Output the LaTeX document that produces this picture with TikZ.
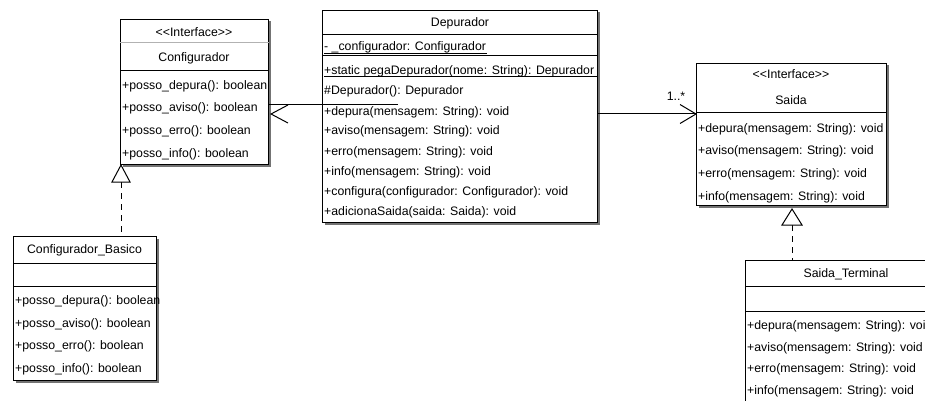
\documentclass[tikz,border=0pt]{standalone}
\usepackage{fontspec}
\setmainfont{Liberation Sans}
\usetikzlibrary{shadows}
\begin{document}
\begin{tikzpicture}[x=1pt,y=-1pt,
  font=\fontsize{12.3}{14}\selectfont,
  umlbox/.style={draw, line width=1pt, fill=white, inner sep=0pt, anchor=north west,
    drop shadow={shadow xshift=2pt, shadow yshift=-2pt, fill=black!55, opacity=1}},
  member/.style={anchor=west, inner sep=0pt, text height=8pt, text depth=0pt},
  title/.style={anchor=center, inner sep=0pt, text height=8pt, text depth=0pt},
  sep/.style={line width=1pt},
  realize/.style={line width=1pt, dash pattern=on 6pt off 5pt},
  hollow/.style={line width=1pt, fill=white},
  assoc/.style={line width=1pt}]
\useasboundingbox (0,0) rectangle (925,401);
\clip (0,0) rectangle (925,401);

% ---------- class boxes ----------
\node[umlbox, minimum width=148pt, minimum height=145pt] (cfg) at (120,19) {};
\node[umlbox, minimum width=275pt, minimum height=212pt] (dep) at (322,10) {};
\node[umlbox, minimum width=190pt, minimum height=142pt] (saida) at (696,63) {};
\node[umlbox, minimum width=143pt, minimum height=144pt] (basico) at (13,236) {};
\node[umlbox, minimum width=202pt, minimum height=170pt] (term) at (745,260) {};

% ---------- Configurador ----------
\draw[sep, black!30] (cfg.west |- 0,43) -- (cfg.east |- 0,43);
\draw[sep] (cfg.west |- 0,71) -- (cfg.east |- 0,71);
\node[title] (cfg-st) at (194,33) {<{}<Interface>{}>};
\node[title] (cfg-nm) at (194,58) {Configurador};
\node[member] (cfg-m1) at (122,86) {+posso\_depura(): boolean};
\node[member] (cfg-m2) at (122,108) {+posso\_aviso(): boolean};
\node[member] (cfg-m3) at (122,130) {+posso\_erro(): boolean};
\node[member] (cfg-m4) at (122,153) {+posso\_info(): boolean};

% ---------- Depurador ----------
\draw[sep] (dep.west |- 0,35) -- (dep.east |- 0,35);
\draw[sep] (dep.west |- 0,55.5) -- (dep.east |- 0,55.5);
\node[title] (dep-nm) at (460,23) {Depurador};
\node[member] (dep-a1) at (324,47) {- \_configurador: Configurador};
\draw[line width=0.8pt] (dep-a1.south west) ++(0,2.5) -- ++(163,0);
\node[member] (dep-m1) at (324,71) {+static pegaDepurador(nome: String): Depurador};
\draw[line width=0.8pt] (324,76) -- (dep.east |- 0,76);
\node[member] (dep-m2) at (324,91) {\#Depurador(): Depurador};
\node[member] (dep-m3) at (324,111) {+depura(mensagem: String): void};
\node[member] (dep-m4) at (324,131) {+aviso(mensagem: String): void};
\node[member] (dep-m5) at (324,151) {+erro(mensagem: String): void};
\node[member] (dep-m6) at (324,171) {+info(mensagem: String): void};
\node[member] (dep-m7) at (324,191) {+configura(configurador: Configurador): void};
\node[member] (dep-m8) at (324,211) {+adicionaSaida(saida: Saida): void};

% ---------- Saida ----------
\draw[sep] (saida.west |- 0,113) -- (saida.east |- 0,113);
\node[title] (saida-st) at (791,75) {<{}<Interface>{}>};
\node[title] (saida-nm) at (791,101) {Saida};
\node[member] (saida-m1) at (698,128) {+depura(mensagem: String): void};
\node[member] (saida-m2) at (698,150) {+aviso(mensagem: String): void};
\node[member] (saida-m3) at (698,173) {+erro(mensagem: String): void};
\node[member] (saida-m4) at (698,196) {+info(mensagem: String): void};

% ---------- Configurador_Basico ----------
\draw[sep] (basico.west |- 0,263) -- (basico.east |- 0,263);
\draw[sep] (basico.west |- 0,286) -- (basico.east |- 0,286);
\node[title] (basico-nm) at (84.5,249) {Configurador\_Basico};
\node[member] (basico-m1) at (15,300) {+posso\_depura(): boolean};
\node[member] (basico-m2) at (15,323) {+posso\_aviso(): boolean};
\node[member] (basico-m3) at (15,345) {+posso\_erro(): boolean};
\node[member] (basico-m4) at (15,368) {+posso\_info(): boolean};

% ---------- Saida_Terminal ----------
\draw[sep] (term.west |- 0,286) -- (term.east |- 0,286);
\draw[sep] (term.west |- 0,311) -- (term.east |- 0,311);
\node[title] (term-nm) at (846,273) {Saida\_Terminal};
\node[member] (term-m1) at (747,325) {+depura(mensagem: String): void};
\node[member] (term-m2) at (747,347) {+aviso(mensagem: String): void};
\node[member] (term-m3) at (747,368) {+erro(mensagem: String): void};
\node[member] (term-m4) at (747,390) {+info(mensagem: String): void};

% ---------- Depurador uses Configurador ----------
\coordinate (cfgref) at (398,105);
\coordinate (cfgtip) at ([xshift=2pt]cfg.east |- 0,114);
\draw[assoc] (cfgref) -- (cfg.east |- cfgref);
\draw[assoc] ([shift={(17,-9)}]cfgtip) -- (cfgtip) -- ([shift={(17,9)}]cfgtip);

% ---------- Depurador to Saida, 1..* ----------
\coordinate (saidatip) at (saida.west |- 0,114);
\draw[assoc] (dep.east |- saidatip) -- (saidatip);
\draw[assoc] ([shift={(-16,-9.5)}]saidatip) -- (saidatip) -- ([shift={(-16,9.5)}]saidatip);
\node[title] (mult) at (676,97) {1..*};

% ---------- realizations ----------
\coordinate (cfgreal) at (121,165);
\coordinate (cfgbase) at (121,182);
\draw[realize] (cfgbase) -- (basico.north -| cfgbase);
\draw[hollow] (cfgreal) -- ++(9,17) -- ++(-18,0) -- cycle;

\coordinate (saidareal) at (792,209);
\coordinate (saidabase) at (792,225);
\draw[realize] (saidabase) -- (term.north -| saidabase);
\draw[hollow] (saidareal) -- ++(10,16) -- ++(-20,0) -- cycle;
\end{tikzpicture}
\end{document}
